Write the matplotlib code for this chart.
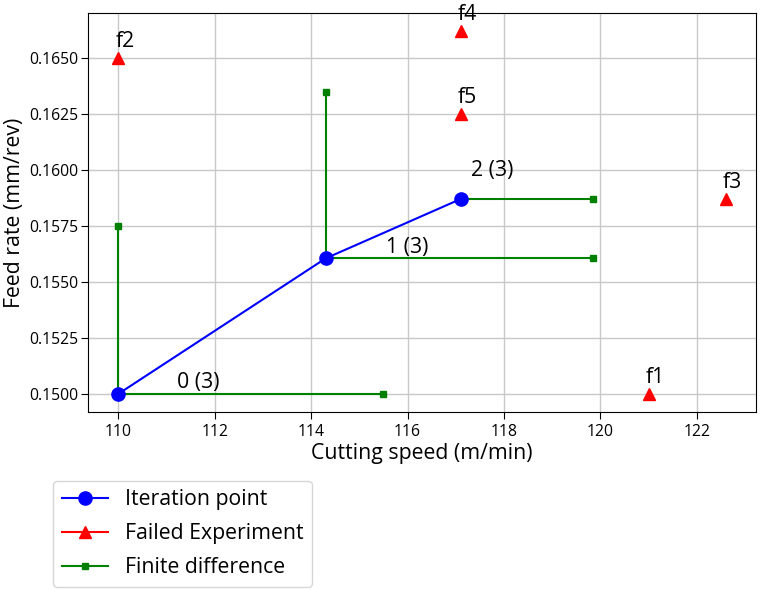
import matplotlib
matplotlib.use("Agg")
import matplotlib.pyplot as plt
from matplotlib.ticker import MultipleLocator, FormatStrFormatter
from matplotlib.lines import Line2D

plt.rcParams['font.family'] = ['Open Sans', 'DejaVu Sans']

# Iteration points
iter_x = [110.0, 114.3, 117.1]
iter_y = [0.1500, 0.15605, 0.1587]
iter_labels = ["0 (3)", "1 (3)", "2 (3)"]
iter_label_x = [111.21, 115.55, 117.31]
iter_label_y = [0.15028, 0.15627, 0.15971]

# Finite-difference segments (start -> end)
fd_x0 = [110.0, 110.0, 114.3, 114.3, 117.1]
fd_y0 = [0.1500, 0.1500, 0.15605, 0.15605, 0.1587]
fd_x1 = [115.5, 110.0, 119.85, 114.3, 119.85]
fd_y1 = [0.1500, 0.1575, 0.15605, 0.1635, 0.1587]

# Failed experiments
fail_x = [121.0, 110.0, 122.6, 117.1, 117.1]
fail_y = [0.1500, 0.1650, 0.1587, 0.1662, 0.1625]
fail_labels = ["f1", "f2", "f3", "f4", "f5"]

FS = 15.3

fig = plt.figure(figsize=(7.62, 5.90), dpi=100)
ax = fig.add_axes([88/762, 1-412/590, (756-88)/762, (412-13)/590])

for i in range(len(fd_x0)):
    ax.plot([fd_x0[i], fd_x1[i]], [fd_y0[i], fd_y1[i]], color='green', lw=1.5,
            marker='s', markersize=5, zorder=2)

ax.plot(iter_x, iter_y, color='blue', lw=1.5, marker='o', markersize=9.5, zorder=3)
ax.plot(fail_x, fail_y, color='red', lw=0, marker='^', markersize=9, zorder=3)

for x, y, t in zip(iter_label_x, iter_label_y, iter_labels):
    ax.text(x, y, t, fontsize=FS, ha='left', va='baseline', zorder=4)
for x, y, t in zip(fail_x, fail_y, fail_labels):
    ax.text(x - 0.05, y + 0.0005, t, fontsize=FS, ha='left', va='baseline', zorder=4)

ax.xaxis.set_major_locator(MultipleLocator(2))
ax.yaxis.set_major_locator(MultipleLocator(0.0025))
ax.yaxis.set_major_formatter(FormatStrFormatter('%.4f'))
ax.tick_params(labelsize=11.3, length=5)
ax.tick_params(axis='y', pad=2)
ax.grid(True, color='#c8c8c8', lw=1)
ax.set_axisbelow(True)
ax.set_xlabel('Cutting speed (m/min)', fontsize=FS, labelpad=2)
ax.set_ylabel('Feed rate (mm/rev)', fontsize=FS, labelpad=3)

handles = [
    Line2D([], [], color='blue', lw=1.5, marker='o', markersize=9.5),
    Line2D([], [], color='red', lw=1.5, marker='^', markersize=9),
    Line2D([], [], color='green', lw=1.5, marker='s', markersize=5),
]
labels = ['Iteration point', 'Failed Experiment', 'Finite difference']
fig.legend(handles, labels, loc='upper left',
           bbox_to_anchor=(53/762, 1-481/590), borderaxespad=0, fontsize=FS,
           handlelength=2.2, labelspacing=0.6)

fig.savefig('out.png', dpi=100)
